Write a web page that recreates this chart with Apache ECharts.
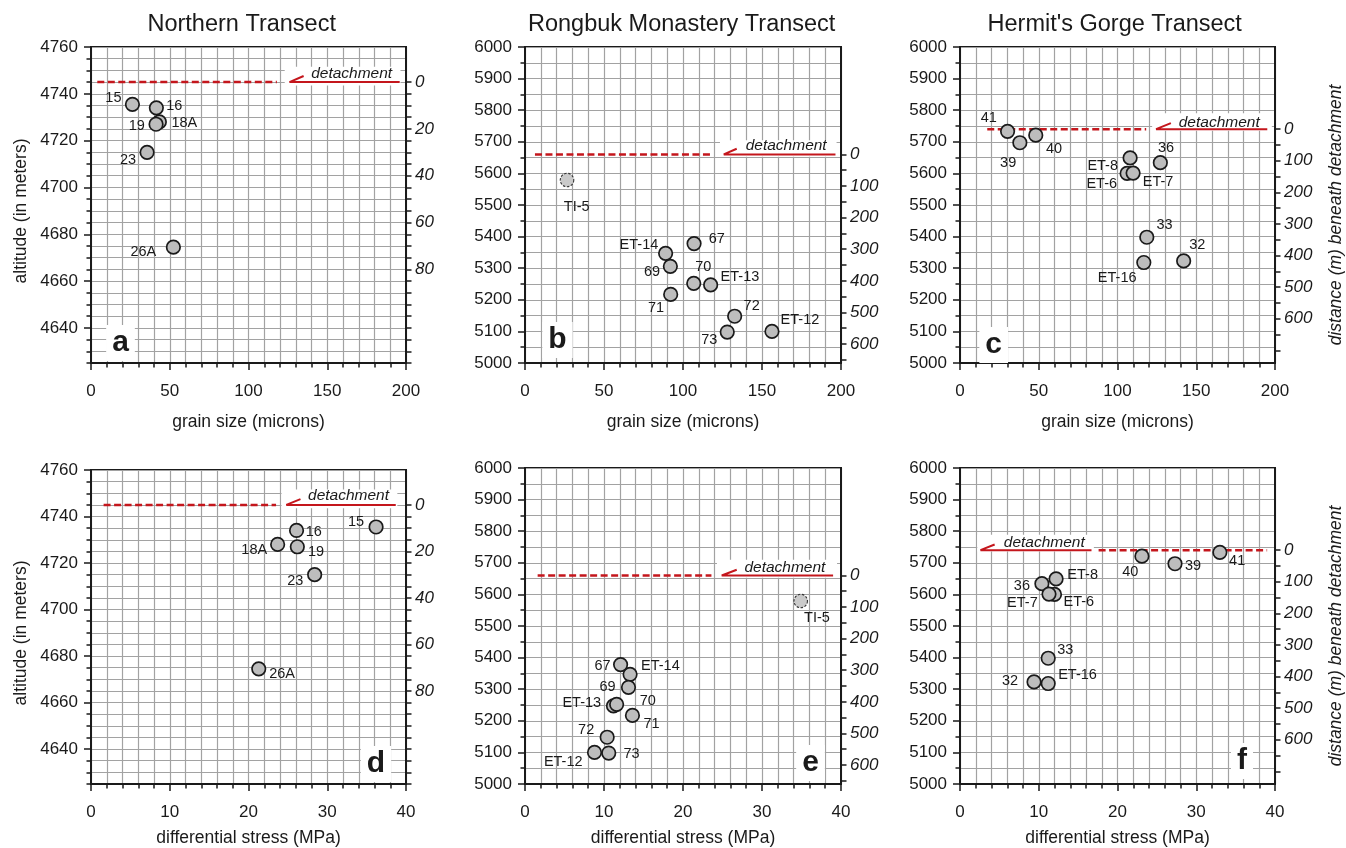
<!DOCTYPE html>
<html>
<head>
<meta charset="utf-8">
<title>Altitude vs grain size and differential stress</title>
<script src="https://cdn.jsdelivr.net/npm/echarts@6/dist/echarts.min.js"></script>
<style>
  html, body { margin: 0; padding: 0; background: #fff; }
  #chart { width: 1346px; height: 848px; }
</style>
</head>
<body>
<div id="chart"></div>
<script>
// ---- Northern Transect ----
const northernSamples   = ['15', '16', '18A', '19', '23', '26A'];
const northernAltitude  = [4735.5, 4734, 4728, 4727, 4715, 4674.5];
const northernGrainSize = [26.3, 41.5, 43.4, 41.3, 35.6, 52.3];
const northernStress    = [36.2, 26.1, 23.7, 26.2, 28.4, 21.3];

// ---- Rongbuk Monastery Transect ----
const rongbukSamples   = ['TI-5', 'ET-14', '67', '69', 'ET-13', '70', '71', '72', '73', 'ET-12'];
const rongbukAltitude  = [5579, 5347, 5378, 5306, 5247, 5252, 5217, 5148, 5098, 5100];
const rongbukGrainSize = [26.6, 89.0, 107.0, 92.0, 117.5, 106.8, 92.2, 132.7, 128.0, 156.3];
const rongbukStress    = [34.9, 13.3, 12.1, 13.1, 11.2, 11.6, 13.6, 10.4, 10.6, 8.8];

// ---- Hermit's Gorge Transect ----
const hermitSamples   = ['41', '39', '40', 'ET-8', '36', 'ET-6', 'ET-7', '33', '32', 'ET-16'];
const hermitAltitude  = [5733, 5697, 5721, 5649, 5634, 5600, 5601, 5398, 5323, 5318];
const hermitGrainSize = [30.2, 38.0, 48.1, 108.0, 127.2, 106.1, 109.9, 118.6, 142.0, 116.7];
const hermitStress    = [33.0, 27.3, 23.1, 12.2, 10.4, 12.0, 11.3, 11.2, 9.4, 11.2];

// Altitude of the detachment in each transect (zero of the right-hand distance axis)
const northernDetachment = 4745;
const rongbukDetachment  = 5660;
const hermitDetachment   = 5740;

// Samples whose outline is drawn dashed
const dashedSamples = ['TI-5'];

// Tick labels
const northernAltitudeLabels = [4640, 4660, 4680, 4700, 4720, 4740, 4760];
const northernDistanceLabels = [0, 20, 40, 60, 80];
const deepDistanceLabels     = [0, 100, 200, 300, 400, 500, 600];

// ---------------------------------------------------------------------------
const INK = '#1a1a1a';
const GRID = '#a2a2a2';
const RED = '#c4161c';
const FONT = '"Liberation Sans", Arial, Helvetica, sans-serif';

function steps(a, b, s) {
  const out = [];
  for (let v = a; v <= b + 1e-9; v += s) out.push(Math.round(v * 1000) / 1000);
  return out;
}

const transects = {
  northern: {
    names: northernSamples, alt: northernAltitude, grain: northernGrainSize, stress: northernStress,
    yMin: 4625, yMax: 4760, detachment: northernDetachment,
    distLabels: northernDistanceLabels, distTicks: steps(0, 120, 5)
  },
  rongbuk: {
    names: rongbukSamples, alt: rongbukAltitude, grain: rongbukGrainSize, stress: rongbukStress,
    yMin: 5000, yMax: 6000, detachment: rongbukDetachment,
    distLabels: deepDistanceLabels, distTicks: steps(0, 650, 50)
  },
  hermit: {
    names: hermitSamples, alt: hermitAltitude, grain: hermitGrainSize, stress: hermitStress,
    yMin: 5000, yMax: 6000, detachment: hermitDetachment,
    distLabels: deepDistanceLabels, distTicks: steps(0, 700, 50)
  }
};

// Panel layout, detachment annotation and per-sample label offsets
const panels = [
  { letter: 'a', transect: 'northern', measure: 'grain', box: [91, 47, 315, 316], letterAt: [120.5, 343],
    leftName: true, rightName: false,
    det: { dashed: [4, 118], solid: [126, 196], tip: [135, 4747.6], rect: [123, 196.5, 4743.6, 4751.6], text: [165.5, 4748.7] },
    offsets: { '15': [-19, -6.7], '16': [18, -1.7], '18A': [25, 1.3], '19': [-19.3, 1.3], '23': [-19, 7.3], '26A': [-30, 4.4] } },
  { letter: 'b', transect: 'rongbuk', measure: 'grain', box: [525, 47, 316, 316], letterAt: [557.5, 340],
    leftName: false, rightName: false,
    det: { dashed: [6.3, 118], solid: [125.8, 196.5], tip: [134, 5678], rect: [123.4, 197.2, 5653, 5705], text: [165.3, 5686.5] },
    offsets: { 'TI-5': [9.7, 26.7], 'ET-14': [-26.7, -8.3], '67': [22.7, -5], '69': [-18.3, 5.7], '70': [9.6, -16],
               'ET-13': [29.3, -7.6], '71': [-14.7, 13.6], '72': [17, -10.7], '73': [-18, 8.4], 'ET-12': [28, -11] } },
  { letter: 'c', transect: 'hermit', measure: 'grain', box: [960, 47, 316, 316], letterAt: [993.7, 345],
    leftName: false, rightName: true,
    det: { dashed: [17.3, 118.2], solid: [124.5, 195.1], tip: [133.9, 5759], rect: [122, 198, 5735, 5790], text: [164.6, 5760] },
    offsets: { '41': [-18.7, -13.3], '39': [-11.7, 20.4], '40': [18.3, 14], 'ET-8': [-27.4, 7.7], 'ET-6': [-25.4, 10.7],
               'ET-7': [25, 9.4], '36': [5.7, -14.6], '33': [17.7, -12], '32': [13.7, -16], 'ET-16': [-26.6, 15] } },
  { letter: 'd', transect: 'northern', measure: 'stress', box: [91, 470, 315, 316], letterAt: [376, 764],
    leftName: true, rightName: false,
    det: { dashed: [1.6, 23.5], solid: [24.8, 38.7], tip: [26.6, 4747.5], rect: [24.2, 38.9, 4743.6, 4751.6], text: [32.7, 4749] },
    offsets: { '15': [-20, -5], '16': [17.3, 1.4], '18A': [-23.4, 5.3], '19': [18.7, 5.7], '23': [-19.3, 6.7], '26A': [23.4, 5] } },
  { letter: 'e', transect: 'rongbuk', measure: 'stress', box: [525, 468, 316, 316], letterAt: [810.5, 763],
    leftName: false, rightName: false,
    det: { dashed: [1.6, 23.6], solid: [24.9, 39.0], tip: [26.8, 5678], rect: [24.3, 39.5, 5653, 5710], text: [32.9, 5684] },
    offsets: { 'TI-5': [16.3, 17], '67': [-18, 1], 'ET-14': [30.3, -8], '69': [-21, 0], 'ET-13': [-31.7, -2.5],
               '70': [31.2, -3], '71': [19, 8.3], '72': [-21, -7.3], '73': [22.7, 1], 'ET-12': [-31.3, 9.6] } },
  { letter: 'f', transect: 'hermit', measure: 'stress', box: [960, 468, 316, 316], letterAt: [1242, 761],
    leftName: false, rightName: true,
    det: { dashed: [17.6, 39.0], solid: [2.6, 16.7], tip: [4.4, 5758], rect: [2.2, 17, 5736, 5789], text: [10.7, 5764.6] },
    offsets: { '40': [-11.6, 15.7], '39': [18, 2.7], '41': [17.3, 9], '36': [-20, 2.7], 'ET-8': [26.6, -4.3],
               'ET-7': [-26.6, 8.7], 'ET-6': [24.3, 8], '33': [17, -8.7], '32': [-24, -0.6], 'ET-16': [29.3, -8.6] } }
];

const titles = [
  { text: 'Northern Transect', x: 241.7 },
  { text: 'Rongbuk Monastery Transect', x: 681.7 },
  { text: "Hermit's Gorge Transect", x: 1114.7 }
];

const option = {
  animation: false,
  backgroundColor: '#fff',
  textStyle: { fontFamily: FONT },
  title: titles.map(t => ({
    text: t.text, left: t.x, top: 13, textAlign: 'center', padding: 0,
    textStyle: { fontSize: 23.5, fontWeight: 'normal', color: INK, fontFamily: FONT }
  })),
  grid: [], xAxis: [], yAxis: [], series: [], graphic: []
};

const axisLineStyle = { color: INK, width: 2 };
const tickStyle = { color: INK, width: 1.5 };
const gridLineStyle = { color: GRID, width: 1.2 };
const plainNumber = v => String(v);

panels.forEach((p, i) => {
  const t = transects[p.transect];
  const isGrain = p.measure === 'grain';
  const xs = isGrain ? t.grain : t.stress;

  option.grid.push({
    left: p.box[0], top: p.box[1], width: p.box[2], height: p.box[3],
    show: true, borderColor: INK, borderWidth: 2, backgroundColor: 'rgba(0,0,0,0)'
  });

  option.xAxis.push({
    gridIndex: i, type: 'value', position: 'bottom',
    min: 0, max: isGrain ? 200 : 40, interval: isGrain ? 50 : 10,
    axisLine: { onZero: false, lineStyle: axisLineStyle },
    axisTick: { show: true, length: 7, lineStyle: tickStyle },
    minorTick: { show: true, splitNumber: 5, length: 4.5, lineStyle: tickStyle },
    splitLine: { show: true, lineStyle: gridLineStyle },
    minorSplitLine: { show: true, lineStyle: gridLineStyle },
    axisLabel: { fontSize: 17, color: INK, margin: 20, fontFamily: FONT, formatter: plainNumber },
    name: isGrain ? 'grain size (microns)' : 'differential stress (MPa)',
    nameLocation: 'middle', nameGap: isGrain ? 50 : 45,
    nameTextStyle: { fontSize: 17.5, color: INK, fontFamily: FONT }
  });

  // left altitude axis
  const leftIdx = option.yAxis.length;
  const leftName = p.leftName ? {
    name: 'altitude (in meters)', nameLocation: 'middle', nameGap: 61, nameRotate: 90,
    nameTextStyle: { fontSize: 17.5, color: INK, fontFamily: FONT, padding: [0, 12, 0, 0] }
  } : {};
  if (p.transect === 'northern') {
    option.yAxis.push(Object.assign({
      gridIndex: i, type: 'value', position: 'left',
      min: t.yMin, max: t.yMax, interval: 5,
      axisLine: { onZero: false, lineStyle: axisLineStyle },
      axisTick: { show: true, length: 4.5, lineStyle: tickStyle },
      splitLine: { show: true, lineStyle: gridLineStyle },
      axisLabel: {
        interval: 0, fontSize: 17, color: INK, margin: 13, fontFamily: FONT,
        formatter: v => (northernAltitudeLabels.indexOf(v) >= 0 ? String(v) : '')
      }
    }, leftName));
    // longer ticks at the labelled altitudes
    option.yAxis.push({
      gridIndex: i, type: 'value', position: 'left',
      min: t.yMin, max: t.yMax, interval: 5,
      axisLine: { show: false },
      axisTick: { show: true, length: 7, lineStyle: tickStyle, customValues: northernAltitudeLabels },
      axisLabel: { show: false },
      splitLine: { show: false }
    });
  } else {
    option.yAxis.push(Object.assign({
      gridIndex: i, type: 'value', position: 'left',
      min: t.yMin, max: t.yMax, interval: 100,
      axisLine: { onZero: false, lineStyle: axisLineStyle },
      axisTick: { show: true, length: 7, lineStyle: tickStyle },
      minorTick: { show: true, splitNumber: 2, length: 4.5, lineStyle: tickStyle },
      splitLine: { show: true, lineStyle: gridLineStyle },
      minorSplitLine: { show: true, lineStyle: gridLineStyle },
      axisLabel: { fontSize: 17, color: INK, margin: 13, fontFamily: FONT, formatter: plainNumber }
    }, leftName));
  }

  // right axis: distance beneath the detachment
  const rightName = p.rightName ? {
    name: 'distance (m) beneath detachment', nameLocation: 'middle', nameGap: 52, nameRotate: 90,
    nameTextStyle: { fontSize: 17.5, color: INK, fontStyle: 'italic', fontFamily: FONT, padding: [0, 20, 0, 0] }
  } : {};
  option.yAxis.push(Object.assign({
    gridIndex: i, type: 'value', position: 'right', inverse: true,
    min: t.detachment - t.yMax, max: t.detachment - t.yMin,
    axisLine: { show: true, onZero: false, lineStyle: axisLineStyle },
    axisTick: { show: true, length: 5.5, lineStyle: tickStyle, customValues: t.distTicks },
    axisLabel: { customValues: t.distLabels, fontSize: 17, fontStyle: 'italic', color: INK, margin: 9,
                 fontFamily: FONT, formatter: plainNumber },
    splitLine: { show: false }
  }, rightName));

  const axes = { xAxisIndex: i, yAxisIndex: leftIdx };
  const d = p.det;
  const y0 = t.detachment;

  // white patch behind the detachment label
  option.series.push(Object.assign({
    type: 'custom', silent: true, z: 3,
    data: [[d.rect[0], d.rect[2], d.rect[1], d.rect[3]]],
    encode: { x: [0, 2], y: [1, 3] },
    renderItem: (params, api) => {
      const p1 = api.coord([api.value(0), api.value(1)]);
      const p2 = api.coord([api.value(2), api.value(3)]);
      return {
        type: 'rect',
        shape: { x: Math.min(p1[0], p2[0]), y: Math.min(p1[1], p2[1]),
                 width: Math.abs(p2[0] - p1[0]), height: Math.abs(p2[1] - p1[1]) },
        style: { fill: '#fff' }
      };
    }
  }, axes));

  // dashed trace of the detachment
  option.series.push(Object.assign({
    type: 'line', silent: true, z: 4, symbol: 'none',
    data: [[d.dashed[0], y0], [d.dashed[1], y0]],
    lineStyle: { color: RED, width: 2.5, type: [7, 3.5] }
  }, axes));

  // solid detachment with half-arrow showing the sense of shear
  option.series.push(Object.assign({
    type: 'line', silent: true, z: 4, symbol: 'none',
    data: [[d.tip[0], d.tip[1]], [d.solid[0], y0], [d.solid[1], y0]],
    lineStyle: { color: RED, width: 2 }
  }, axes));

  // "detachment" label
  option.series.push(Object.assign({
    type: 'scatter', silent: true, z: 5, symbolSize: 0,
    itemStyle: { opacity: 1 },
    data: [[d.text[0], d.text[1]]],
    label: {
      show: true, position: 'inside', formatter: 'detachment', opacity: 1,
      fontSize: 15.5, fontStyle: 'italic', color: INK, fontFamily: FONT,
      textBorderWidth: 0, textBorderColor: 'transparent'
    }
  }, axes));

  // samples
  option.series.push(Object.assign({
    type: 'scatter', silent: true, z: 6,
    symbol: 'circle', symbolSize: 13.5,
    itemStyle: { color: '#bdbdbd', borderColor: INK, borderWidth: 1.7, opacity: 1 },
    label: {
      show: true, position: 'inside', fontSize: 14.5, color: INK, fontFamily: FONT, opacity: 1,
      textBorderWidth: 0, textBorderColor: 'transparent',
      formatter: q => q.name
    },
    data: t.names.map((name, k) => {
      const item = {
        name: name,
        value: [xs[k], t.alt[k]],
        label: { offset: p.offsets[name] || [15, 0] }
      };
      if (dashedSamples.indexOf(name) >= 0) {
        item.itemStyle = { color: '#cacaca', borderColor: '#333', borderWidth: 1.1, borderType: [2.5, 1.6], opacity: 1 };
      }
      return item;
    })
  }, axes));

  // panel letter
  option.graphic.push({
    type: 'text', x: p.letterAt[0], y: p.letterAt[1], z: 100,
    style: {
      text: p.letter, fontSize: 30, fontWeight: 'bold', fontFamily: FONT, fill: INK,
      align: 'center', verticalAlign: 'middle', backgroundColor: '#fff', padding: [2, 6, 4, 6]
    }
  });
});

const chart = echarts.init(document.getElementById('chart'), null, { renderer: 'canvas' });
chart.setOption(option);
</script>
</body>
</html>
